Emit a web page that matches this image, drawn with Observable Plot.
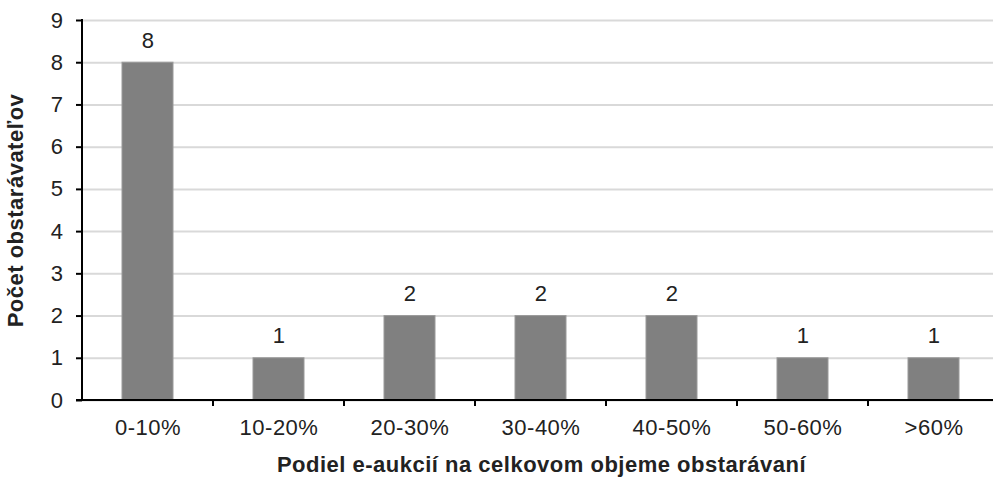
<!DOCTYPE html>
<html>
<head>
<meta charset="utf-8">
<script src="https://cdn.jsdelivr.net/npm/d3@7"></script>
<script src="https://cdn.jsdelivr.net/npm/@observablehq/plot@0.6"></script>
<style>
  html, body { margin: 0; padding: 0; background: #fff; }
  svg { display: block; }
  svg text { letter-spacing: 0.5px; }
</style>
</head>
<body>
<div id="chart"></div>
<script>
const categories = ["0-10%", "10-20%", "20-30%", "30-40%", "40-50%", "50-60%", ">60%"];
const counts = [8, 1, 2, 2, 2, 1, 1];
const yTicks = [0, 1, 2, 3, 4, 5, 6, 7, 8, 9];
const xTitle = "Podiel e-aukcií na celkovom objeme obstarávaní";
const yTitle = "Počet obstarávateľov";

const data = categories.map((c, i) => ({category: c, count: counts[i]}));

function axisLines(index, scales, values, dims) {
  const x = scales.x, y = scales.y;
  const g = d3.create("svg:g");
  const bw = typeof x.bandwidth === "function" ? x.bandwidth() : 0;
  const centers = categories.map(c => x(c) + bw / 2);
  const step = centers[1] - centers[0];
  const y0 = y(0), y9 = y(yTicks[yTicks.length - 1]);
  const left = centers[0] - step / 2;
  const right = centers[centers.length - 1] + step / 2;
  for (let i = 1; i < categories.length; i++) {
    const bx = centers[i] - step / 2;
    g.append("line").attr("x1", bx).attr("x2", bx).attr("y1", y0).attr("y2", y0 + 6)
      .attr("stroke", "#000").attr("stroke-width", 2);
  }
  g.append("line").attr("x1", left).attr("x2", left).attr("y1", y0 + 1).attr("y2", y9 - 1)
    .attr("stroke", "#000").attr("stroke-width", 2);
  g.append("line").attr("x1", left - 6).attr("x2", right).attr("y1", y0).attr("y2", y0)
    .attr("stroke", "#000").attr("stroke-width", 2);
  return g.node();
}

const chart = Plot.plot({
  width: 993,
  height: 479,
  marginTop: 20,
  marginBottom: 79,
  marginLeft: 82,
  marginRight: -7,
  style: {fontFamily: "'Liberation Sans', Arial, sans-serif", fontSize: "22px", color: "#222", background: "#fff"},
  x: {domain: categories, paddingInner: 0.61, paddingOuter: 0.305, label: null},
  y: {domain: [0, 9], label: null},
  marks: [
    Plot.gridY(yTicks, {stroke: "#d9d9d9", strokeOpacity: 1, strokeWidth: 2}),
    Plot.barY(data, {x: "category", y: "count", fill: "#808080", stroke: "#9a9a9a", strokeWidth: 1}),
    Plot.text(data, {x: "category", y: "count", text: d => String(d.count), dy: -22, fontSize: 22, fill: "#222"}),
    Plot.axisY(yTicks, {tickSize: 6, tickPadding: 13, fontSize: 22, label: null, strokeWidth: 2, stroke: "#000", fill: "#222"}),
    Plot.axisX({tickSize: 0, tickPadding: 19, fontSize: 22, label: null, fill: "#222"}),
    axisLines,
    Plot.text([yTitle], {frameAnchor: "left", textAnchor: "middle", dx: -67, rotate: -90, fontSize: 22, fontWeight: "bold", fill: "#222"}),
    Plot.text([xTitle], {frameAnchor: "bottom", dy: 71, fontSize: 22, fontWeight: "bold", fill: "#222"})
  ]
});
document.getElementById("chart").appendChild(chart);
</script>
</body>
</html>
